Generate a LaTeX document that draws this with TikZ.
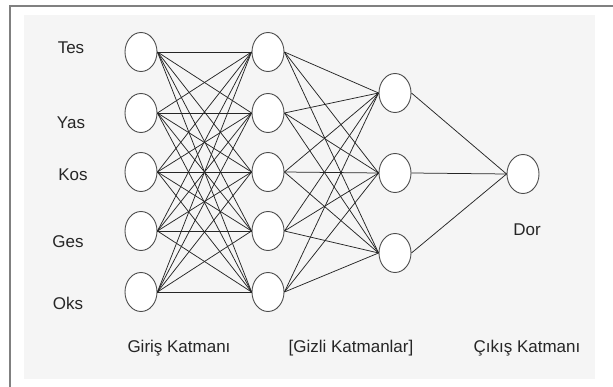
\documentclass[tikz,border=0pt]{standalone}
\usepackage{fontspec}
\setmainfont{Liberation Sans}
\usetikzlibrary{shapes.geometric}
\begin{document}
\begin{tikzpicture}[x=1pt,y=-1pt,
  neuron/.style={draw=black!70,line width=0.9pt,ellipse,minimum width=32pt,minimum height=39pt,inner sep=0pt,fill=white},
  link/.style={draw=black!85,line width=0.75pt},
  lbl/.style={font=\fontsize{17}{19}\selectfont,text=black!85,inner sep=0pt},
  frameline/.style={draw=black!50,line width=1.4pt}]
\useasboundingbox (0,0) rectangle (613,387);
\fill[white] (0,0) rectangle (613,387);
\fill[black!4] (24,15) rectangle (595,379);
\draw[frameline] (10,387) -- (10,6) -- (613,6);
% layers
\foreach \i/\y in {1/52,2/113,3/172,4/231,5/292}{
  \node[neuron] (a\i) at (141,\y) {};
  \node[neuron] (b\i) at (268,\y) {};
}
\foreach \i/\y in {1/93,2/173,3/253}{
  \node[neuron] (c\i) at (395,\y) {};
}
\node[neuron] (d) at (523,174) {};
% connections
\foreach \i in {1,...,5}{\foreach \j in {1,...,5}{\draw[link] (a\i.east) -- (b\j.west);}}
\foreach \i in {1,...,5}{\foreach \j in {1,...,3}{\draw[link] (b\i.east) -- (c\j.west);}}
\foreach \j in {1,...,3}{\draw[link] (c\j.east) -- (d.west);}
% labels
\node[lbl] (t1) at (71,48) {Tes};
\node[lbl] (t2) at (71,123) {Yas};
\node[lbl] (t3) at (73,175) {Kos};
\node[lbl] (t4) at (68,242) {Ges};
\node[lbl] (t5) at (68,303) {Oks};
\node[lbl] (t6) at (527,230) {Dor};
\node[lbl] (l1) at (179,348) {Giriş Katmanı};
\node[lbl] (l2) at (351,348) {[Gizli Katmanlar]};
\node[lbl] (l3) at (527,348) {Çıkış Katmanı};
\end{tikzpicture}
\end{document}
